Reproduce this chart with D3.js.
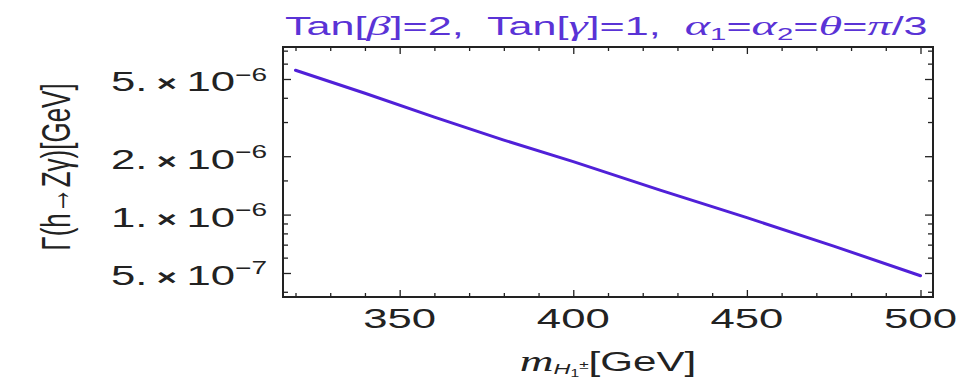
<!DOCTYPE html>
<html>
<head>
<meta charset="utf-8">
<script src="https://cdn.jsdelivr.net/npm/d3@7"></script>
<style>
  body { margin: 0; background: #fff; }
  text { font-family: "Liberation Sans", Arial, sans-serif; }
</style>
</head>
<body>
<script>
// values
const mass = [320, 340, 360, 380, 400, 425, 450, 475, 500];
const decayWidth = [5.55e-6, 4.22e-6, 3.18e-6, 2.42e-6, 1.875e-6, 1.336e-6, 9.65e-7, 6.88e-7, 4.84e-7];
const xMajor = [350, 400, 450, 500];
const xMinor = [320, 330, 340, 360, 370, 380, 390, 410, 420, 430, 440, 460, 470, 480, 490];
const yMajor = [5e-6, 2e-6, 1e-6, 5e-7];
const yMajorLabels = [["5.", "6"], ["2.", "6"], ["1.", "6"], ["5.", "7"]];
const yMinor = [7e-6, 6e-6, 4e-6, 3e-6, 1.5e-6, 9e-7, 8e-7, 7e-7, 6e-7, 4e-7];

const W = 960, H = 382;
const frame = {left: 283, right: 933, top: 47, bottom: 297};
const sx = 1.56;          // picture is stretched sideways
const lineColor = "#5020d8";
const titleColor = "#5a33d6";
const ink = "#222";

const svg = d3.select("body").append("svg")
    .attr("width", W)
    .attr("height", H);

const xScale = d3.scaleLinear()
    .domain([316.4, 503.6])
    .range([frame.left, frame.right]);

const yScale = d3.scaleLog()
    .domain([3.76e-7, 7.31e-6])
    .range([frame.bottom, frame.top]);

// ticks on all four sides, pointing in
const tickAxis = (axis, scale, values, size, transform) => {
  svg.append("g")
      .attr("transform", transform)
      .call(axis(scale).tickValues(values).tickSizeInner(size).tickSizeOuter(0).tickFormat(""))
      .call(g => g.select(".domain").remove())
      .call(g => g.selectAll("line").attr("stroke", ink).attr("stroke-width", 1.3));
};
tickAxis(d3.axisBottom, xScale, xMajor, -7, `translate(0,${frame.bottom})`);
tickAxis(d3.axisBottom, xScale, xMinor, -4, `translate(0,${frame.bottom})`);
tickAxis(d3.axisTop, xScale, xMajor, -7, `translate(0,${frame.top})`);
tickAxis(d3.axisTop, xScale, xMinor, -4, `translate(0,${frame.top})`);
tickAxis(d3.axisLeft, yScale, yMajor, -8, `translate(${frame.left},0)`);
tickAxis(d3.axisLeft, yScale, yMinor, -5, `translate(${frame.left},0)`);
tickAxis(d3.axisRight, yScale, yMajor, -8, `translate(${frame.right},0)`);
tickAxis(d3.axisRight, yScale, yMinor, -5, `translate(${frame.right},0)`);

svg.append("rect")
    .attr("x", frame.left)
    .attr("y", frame.top)
    .attr("width", frame.right - frame.left)
    .attr("height", frame.bottom - frame.top)
    .attr("fill", "none")
    .attr("stroke", ink)
    .attr("stroke-width", 2);

// the curve
const line = d3.line()
    .x((d, i) => xScale(mass[i]))
    .y(d => yScale(d));

svg.append("path")
    .datum(decayWidth)
    .attr("d", line)
    .attr("fill", "none")
    .attr("stroke", lineColor)
    .attr("stroke-width", 3)
    .attr("stroke-linecap", "round");

// x tick labels
svg.append("g")
    .selectAll("text")
    .data(xMajor)
    .enter()
    .append("text")
      .attr("transform", d => `translate(${xScale(d)},328) scale(${sx},1)`)
      .attr("text-anchor", "middle")
      .attr("font-size", 28)
      .attr("fill", ink)
      .text(d => d);

// y tick labels, like "5. × 10^-6"
const yl = svg.append("g")
    .selectAll("text")
    .data(yMajor)
    .enter()
    .append("text")
      .attr("transform", d => `translate(267,${yScale(d) + 12.5}) scale(${sx},1)`)
      .attr("text-anchor", "end")
      .attr("font-size", 28)
      .attr("fill", ink)
      .style("white-space", "pre");
yl.append("tspan").text((d, i) => yMajorLabels[i][0]);
yl.append("tspan").attr("font-size", 22).attr("font-weight", "bold").text(" × ");
yl.append("tspan").text("10");
yl.append("tspan").attr("dy", -11).attr("font-size", 18).text((d, i) => "\u2212" + yMajorLabels[i][1]);

// x axis label
const xl = svg.append("text")
    .attr("transform", `translate(608,371) scale(${sx},1)`)
    .attr("text-anchor", "middle")
    .attr("font-size", 27)
    .attr("fill", ink);
xl.append("tspan").attr("font-style", "italic").attr("font-family", "Liberation Serif, serif").attr("font-size", 30).text("m");
xl.append("tspan").attr("dy", 3).attr("font-style", "italic").attr("font-size", 15).text("H");
xl.append("tspan").attr("dy", 3).attr("font-size", 10).text("1");
xl.append("tspan").attr("dy", -8).attr("font-size", 11).text("±");
xl.append("tspan").attr("dy", 2).text("[GeV]");

// y axis label
svg.append("text")
    .attr("transform", `translate(70,167) scale(${sx},1) rotate(-90)`)
    .attr("text-anchor", "middle")
    .attr("font-size", 26)
    .attr("fill", ink)
    .text("Γ(h→Zγ)[GeV]");

// title
const title = svg.append("text")
    .attr("font-size", 25)
    .attr("fill", titleColor)
    .style("white-space", "pre");
const parts = [
  ["Tan[", ""], ["β", "i"], ["]=2,  Tan[", ""], ["γ", "i"], ["]=1,  ", ""],
  ["α", "i"], ["1", "sub"], ["=", "up"], ["α", "i"], ["2", "sub"], ["=", "up"],
  ["θ", "i"], ["=", ""], ["π", "i"], ["/3", ""]
];
parts.forEach(([t, k]) => {
  const s = title.append("tspan").text(t);
  if (k === "i") s.attr("font-style", "italic").attr("font-family", "Liberation Serif, serif").attr("font-size", 28);
  if (k === "sub") s.attr("dy", 5).attr("font-size", 17);
  if (k === "up") s.attr("dy", -5);
});
const tw = title.node().getComputedTextLength();
title.attr("transform", `translate(285,35) scale(${643 / tw},1)`);
</script>
</body>
</html>
